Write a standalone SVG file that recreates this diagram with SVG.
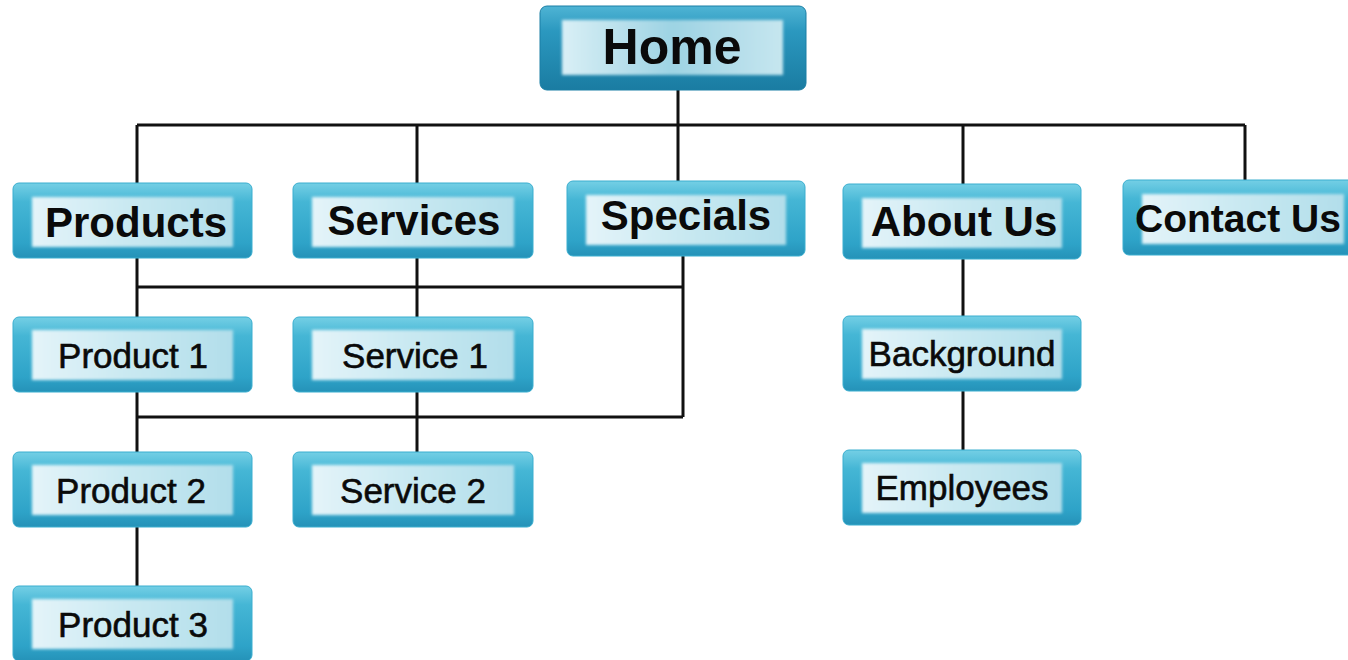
<svg xmlns="http://www.w3.org/2000/svg" width="1348" height="660" viewBox="0 0 1348 660">
<defs>
<linearGradient id="outerG" x1="0" y1="0" x2="0" y2="1">
<stop offset="0" stop-color="#74cfe5"/>
<stop offset="0.25" stop-color="#45b6d5"/>
<stop offset="0.8" stop-color="#2ea3c8"/>
<stop offset="1" stop-color="#2592b8"/>
</linearGradient>
<linearGradient id="innerG" x1="0" y1="0" x2="1" y2="0">
<stop offset="0" stop-color="#e4f4f9"/>
<stop offset="0.5" stop-color="#c8e8f1"/>
<stop offset="1" stop-color="#b2deea"/>
</linearGradient>
<linearGradient id="homeOuter" x1="0" y1="0" x2="0" y2="1">
<stop offset="0" stop-color="#4fb4d4"/>
<stop offset="0.3" stop-color="#2b98bf"/>
<stop offset="1" stop-color="#1a7ca2"/>
</linearGradient>
<linearGradient id="homeInner" x1="0" y1="0" x2="1" y2="0">
<stop offset="0" stop-color="#d9eff6"/>
<stop offset="0.5" stop-color="#9dd3e3"/>
<stop offset="1" stop-color="#c6e6ef"/>
</linearGradient>
<filter id="soft" x="-10%" y="-20%" width="120%" height="140%">
<feGaussianBlur stdDeviation="1.6"/>
</filter>
</defs>
<style>
.outer{fill:url(#outerG);stroke:#3aaecf;stroke-width:1}
.inner{fill:url(#innerG);filter:url(#soft)}
.homeo{fill:url(#homeOuter);stroke:#1b7fa5;stroke-width:1}
.homei{fill:url(#homeInner);filter:url(#soft)}
.t1{font-family:"Liberation Sans",Arial,sans-serif;font-weight:bold;font-size:42px;fill:#0a0a0a;text-anchor:middle}
.t2{font-family:"Liberation Sans",Arial,sans-serif;font-size:35px;fill:#0a0a0a;stroke:#0a0a0a;stroke-width:0.6;text-anchor:middle}
.th{font-family:"Liberation Sans",Arial,sans-serif;font-weight:bold;font-size:50px;fill:#0a0a0a;text-anchor:middle}
.conn{stroke:#111;stroke-width:3;fill:none}
</style>
<rect width="1348" height="660" fill="#ffffff"/>
<g id="connectors" class="conn">
<path d="M678 90V125M137 125H1245M137 125V183M417 125V183M678 125V181M963 125V184M1245 125V180"/>
<path d="M137 258V317M137 287H683M417 258V317M683 256V417M137 417H683M137 392V452M417 392V452M137 527V586"/>
<path d="M963 259V316M963 391V450"/>
</g>
<g id="home">
<rect class="homeo" x="540" y="6" width="266" height="84" rx="7"/>
<rect class="homei" x="562" y="20" width="221" height="55"/>
<text class="th" x="672" y="64">Home</text>
</g>
<g id="products">
<rect class="outer" x="13" y="183" width="239" height="75" rx="6"/>
<rect class="inner" x="32" y="197" width="201" height="50"/>
<text class="t1" x="136" y="237">Products</text>
</g>
<g id="services">
<rect class="outer" x="293" y="183" width="240" height="75" rx="6"/>
<rect class="inner" x="312" y="197" width="202" height="50"/>
<text class="t1" x="414" y="235">Services</text>
</g>
<g id="specials">
<rect class="outer" x="567" y="181" width="238" height="75" rx="6"/>
<rect class="inner" x="586" y="195" width="200" height="50"/>
<text class="t1" x="686" y="230">Specials</text>
</g>
<g id="aboutus">
<rect class="outer" x="843" y="184" width="238" height="75" rx="6"/>
<rect class="inner" x="862" y="198" width="200" height="50"/>
<text class="t1" x="964" y="236">About Us</text>
</g>
<g id="contactus">
<rect class="outer" x="1123" y="180" width="240" height="75" rx="6"/>
<rect class="inner" x="1142" y="194" width="202" height="50"/>
<text class="t1" x="1238" y="232" style="font-size:39px">Contact Us</text>
</g>
<g id="product1">
<rect class="outer" x="13" y="317" width="239" height="75" rx="6"/>
<rect class="inner" x="32" y="330" width="201" height="50"/>
<text class="t2" x="133" y="368">Product 1</text>
</g>
<g id="service1">
<rect class="outer" x="293" y="317" width="240" height="75" rx="6"/>
<rect class="inner" x="312" y="330" width="202" height="50"/>
<text class="t2" x="415" y="368">Service 1</text>
</g>
<g id="background">
<rect class="outer" x="843" y="316" width="238" height="75" rx="6"/>
<rect class="inner" x="862" y="329" width="200" height="50"/>
<text class="t2" x="962" y="366">Background</text>
</g>
<g id="product2">
<rect class="outer" x="13" y="452" width="239" height="75" rx="6"/>
<rect class="inner" x="32" y="465" width="201" height="50"/>
<text class="t2" x="131" y="503">Product 2</text>
</g>
<g id="service2">
<rect class="outer" x="293" y="452" width="240" height="75" rx="6"/>
<rect class="inner" x="312" y="465" width="202" height="50"/>
<text class="t2" x="413" y="503">Service 2</text>
</g>
<g id="employees">
<rect class="outer" x="843" y="450" width="238" height="75" rx="6"/>
<rect class="inner" x="862" y="463" width="200" height="50"/>
<text class="t2" x="962" y="500">Employees</text>
</g>
<g id="product3">
<rect class="outer" x="13" y="586" width="239" height="75" rx="6"/>
<rect class="inner" x="32" y="599" width="201" height="50"/>
<text class="t2" x="133" y="637">Product 3</text>
</g>
</svg>
